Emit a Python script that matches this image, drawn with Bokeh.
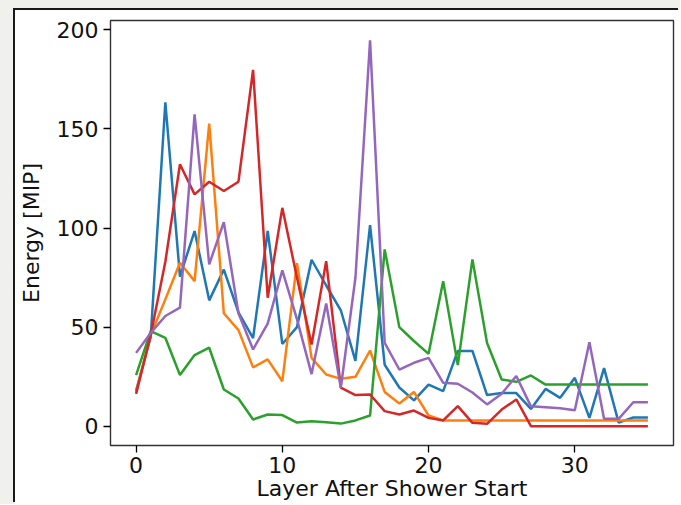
from bokeh.plotting import figure
from bokeh.models import Range1d, FixedTicker
from bokeh.embed import file_html
from bokeh.resources import INLINE

layers = list(range(36))

blue = [18, 45, 163.5, 75.5, 98.5, 63.5, 79, 57.5, 44.5, 98.5, 41.5, 50, 84, 71, 58.5, 33, 101.5, 31, 19.5, 13, 21, 17.7, 38, 38,
        15.7, 16.7, 16.7, 8.7, 18.8, 14.3, 24.4, 4.2, 29.3, 1.8, 4.4, 4.4]
orange = [17, 46, 64, 82.5, 73.2, 152.7, 57, 48.5, 29.7, 33.7, 22.7, 82.3, 34.5, 26.1, 23.9, 24.9, 38.2, 17.3, 11.5, 17.3, 5.4, 2.9, 2.9, 2.9,
          2.9, 2.9, 2.9, 2.9, 2.9, 2.9, 2.9, 2.9, 2.9, 2.9, 2.9, 2.9]
green = [25.8, 48, 44.6, 25.8, 35.9, 39.6, 18.5, 14, 3.4, 5.9, 5.6, 1.8, 2.5, 2, 1.3, 2.9, 5.4, 89.2, 50, 43, 36.5, 73.2, 30.8, 84.2,
         42, 23.6, 22.4, 25.6, 21, 21, 21, 21, 21, 21, 21, 21]
red = [16.3, 46, 83, 132.2, 117, 123.4, 118.7, 123.4, 179.8, 64.8, 110.2, 75, 41.2, 83.3, 19.5, 15.7, 16, 7.6, 5.9, 7.9, 4.2, 2.9, 10.1, 1.7,
       1.2, 8.4, 13.5, 0, 0, 0, 0, 0, 0, 0, 0, 0]
purple = [37, 47, 55.6, 59.8, 157.4, 81.7, 103, 57, 38.7, 51.8, 78.6, 54, 26.3, 61.9, 19.4, 74.9, 194.8, 42, 28.6, 32, 34.5, 21.9, 21.4, 17,
          11, 16.4, 25.3, 10, 9.5, 9, 8, 42.4, 3.7, 3.7, 12.1, 12.1]

series = [blue, orange, green, red, purple]
colors = ["#1f77b4", "#ff7f0e", "#2ca02c", "#d62728", "#9467bd"]

x_ticks = [0, 10, 20, 30]
y_ticks = [0, 50, 100, 150, 200]

p = figure(width=665, height=494, output_backend="svg", toolbar_location=None,
           x_range=Range1d(-1.75, 36.75), y_range=Range1d(-9.75, 204.75),
           min_border_left=92, min_border_top=10, min_border_right=7, min_border_bottom=59)
p.margin = (10, 0, 0, 15)
p.styles = {"box-shadow": "-2px -2px 0 0 #1a1a1a, -40px -40px 0 40px #f0f0ec"}
p.background_fill_color = "white"
p.border_fill_color = "white"
p.outline_line_color = "#333333"
p.outline_line_width = 1.4
p.grid.visible = False

for ys, c in zip(series, colors):
    p.line(layers, ys, line_color=c, line_width=2.5)

for ax in (p.xaxis[0], p.yaxis[0]):
    ax.axis_line_color = None
    ax.major_tick_in = 0
    ax.major_tick_out = 7
    ax.major_tick_line_color = "black"
    ax.major_tick_line_width = 1.3
    ax.minor_tick_line_color = None
    ax.major_label_text_font = "DejaVu Sans"
    ax.major_label_text_font_size = "22px"
    ax.major_label_text_color = "#111111"
    ax.major_label_standoff = 5
    ax.axis_label_text_font = "DejaVu Sans"
    ax.axis_label_text_font_size = "22px"
    ax.axis_label_text_font_style = "normal"
    ax.axis_label_text_color = "#111111"

p.xaxis[0].ticker = FixedTicker(ticks=x_ticks)
p.yaxis[0].ticker = FixedTicker(ticks=y_ticks)

p.yaxis[0].axis_label = "Energy [MIP]"
p.yaxis[0].axis_label_standoff = 10
p.xaxis[0].axis_label = "Layer After Shower Start"
p.xaxis[0].axis_label_standoff = 0
p.xaxis[0].major_label_standoff = 4

open("out.html", "w").write(file_html(p, INLINE))
